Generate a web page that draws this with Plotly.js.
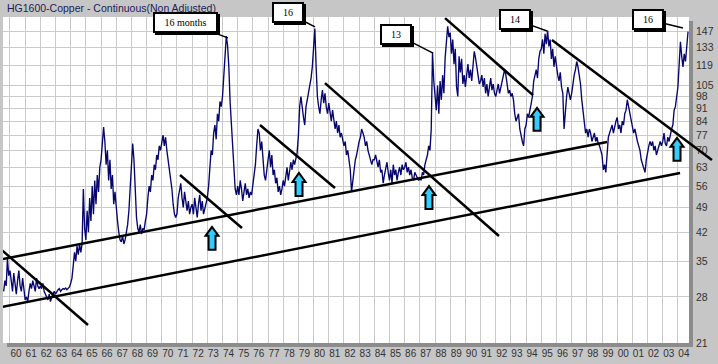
<!DOCTYPE html>
<html>
<head>
<meta charset="utf-8">
<script src="https://cdn.plot.ly/plotly-3.0.1.min.js"></script>
<style>
html,body{margin:0;padding:0;background:#c6c6c6;}
#chart{width:718px;height:364px;}
</style>
</head>
<body>
<div id="chart"></div>
<script>
// ---- Data (monthly, cents/lb) ----
// series starts August 1959
const startYear = 1959;
const startMonth = 7; // 0-based: August
const copper1959 = [29, 31, 30, 35.5, 32];
const copper1960s = [
  33, 31, 29, 32.5, 30, 28.5, 31, 33, 30, 29, 31.5, 29,
  27.5, 28, 27.2, 29, 30.5, 29.5, 31, 30, 29, 31.5, 30, 29.5,
  30, 29.5, 30.5, 29, 28.5, 28, 27.5, 28.5, 27.2, 28, 28.5, 29,
  28.5, 29, 29.3, 29.5, 29, 29.3, 29.5, 29.4, 29.6, 29.3, 29.5, 29.8,
  30.5, 31.5, 34, 37, 35, 38.5, 36.5, 39, 37, 39, 55, 43,
  40, 48, 42, 52, 45, 56, 47, 58, 50, 60, 54, 63,
  66, 72, 81, 74, 64, 70, 58, 66, 55, 60, 50, 54,
  48, 45, 42, 40, 39.5, 41, 39, 40, 42, 44, 48, 55,
  62, 73, 66, 52, 46, 43, 42, 44, 41.5, 43, 42.5, 45,
  47, 52, 56, 54, 60, 58, 64, 62, 68, 66, 72, 70
];
const copper1970s = [
  74, 77, 72, 76, 70, 66, 62, 58, 55, 50, 47, 46,
  47, 52, 55, 57, 52, 49, 54, 50, 48, 51, 47, 49,
  50, 47, 52, 49, 46, 50, 53, 48, 51, 47, 49, 50,
  52, 56, 62, 70, 68, 78, 82, 75, 88, 84, 95, 92,
  98, 112, 125, 143, 135, 118, 95, 82, 68, 62, 55, 53,
  56, 53, 58, 55, 51, 54, 57, 53, 55, 52, 54, 53,
  56, 60, 64, 72, 80, 78, 70, 74, 65, 60, 58, 61,
  66, 70, 63, 68, 60, 62, 57, 59, 54, 56, 53, 55,
  58, 56, 60, 63, 58, 61, 65, 62, 66, 64, 67, 69,
  77, 92, 98, 90, 86, 82, 92, 96, 100, 104, 110, 118
];
const copper1980s = [
  130, 150, 118, 98, 92, 88, 96, 102, 94, 100, 92, 88,
  94, 88, 84, 90, 86, 80, 84, 78, 82, 76, 78, 74,
  72, 74, 68, 70, 66, 62, 54, 58, 62, 66, 68, 72,
  74, 76, 80, 78, 76, 72, 74, 70, 68, 66, 64, 66,
  66, 68, 65, 63, 66, 61, 62, 57, 60, 62, 65, 61,
  58, 62, 57, 64, 60, 62, 58, 61, 63, 60, 64, 62,
  63, 65, 61, 63, 60, 62, 59, 58, 61, 60, 59, 58,
  59, 58, 61, 60, 64, 66, 68, 72, 70, 80, 129, 108,
  100, 90, 105, 88, 108, 96, 112, 100, 125, 140, 152, 142,
  146, 128, 140, 120, 132, 104, 98, 126, 114, 124, 106, 112
];
const copper1990s = [
  104, 112, 120, 110, 116, 108, 118, 130, 125, 118, 112, 106,
  108, 112, 104, 110, 100, 106, 98, 104, 110, 102, 106, 100,
  98, 102, 106, 100, 104, 108, 110, 116, 112, 104, 100, 102,
  98, 100, 96, 88, 84, 86, 88, 80, 76, 74, 72, 80,
  82, 88, 86, 90, 94, 98, 108, 112, 116, 110, 124, 130,
  132, 140, 128, 145, 136, 148, 134, 140, 124, 132, 118, 126,
  118, 112, 108, 114, 104, 100, 80, 92, 98, 104, 100, 96,
  100, 108, 112, 116, 122, 118, 112, 106, 96, 90, 84, 78,
  80, 76, 80, 78, 74, 76, 78, 74, 76, 73, 72, 70,
  68, 62, 64, 61, 68, 76, 78, 80, 82, 78, 82, 84
];
const copper2000s = [
  86, 80, 82, 78, 84, 82, 88, 90, 96, 92, 88, 84,
  82, 78, 80, 76, 74, 72, 70, 66, 64, 62, 61, 66,
  70, 72, 74, 72, 74, 70, 72, 68, 70, 72, 74, 72,
  74, 78, 73, 72, 76, 74, 78, 80, 82, 90, 92, 100,
  104, 120, 138, 126, 118, 128, 122, 134, 147
];

// ---- Axis ticks ----
const yearTicks = [1960,1961,1962,1963,1964,1965,1966,1967,1968,1969,1970,1971,1972,1973,1974,1975,1976,1977,1978,1979,1980,1981,1982,1983,1984,1985,1986,1987,1988,1989,1990,1991,1992,1993,1994,1995,1996,1997,1998,1999,2000,2001,2002,2003,2004];
const yearLabels = ['60','61','62','63','64','65','66','67','68','69','70','71','72','73','74','75','76','77','78','79','80','81','82','83','84','85','86','87','88','89','90','91','92','93','94','95','96','97','98','99','00','01','02','03','04'];
const priceTicks = [21,28,35,42,49,56,63,70,77,84,91,98,105,119,133,147];

// ---- Chart annotations (trend lines, arrows, callouts) in data coordinates ----
const xRange = [1959.54, 2004.73];
const trendLines = [
  [1959.54, 35.5, 1999.33, 73.8],
  [1959.47, 26.3, 2004.14, 60.8],
  [1959.47, 37.5, 1965.14, 23.5],
  [1971.20, 60.0, 1975.28, 43.1],
  [1976.47, 82.0, 1981.41, 55.3],
  [1980.75, 106.6, 1992.21, 41.0],
  [1988.66, 160, 1994.45, 98.9]
];
// this one runs past the plot edge into the axis panel
const longTrendLine = [1995.70, 139.5, 2006.24, 65.9];
const arrowTips = [[1973.31, 43.4],[1979.04, 60.8],[1987.60, 56.0],[1994.72, 91.3],[2003.94, 75.7]];
const callouts = [
  {text:'16 months', t:1974.36, v:141.4, ax:-42.5, ay:-15.5, w:61},
  {text:'16', t:1980.09, v:151.4, ax:-27, ay:-14, w:28},
  {text:'13', t:1987.87, v:128.6, ax:-37.5, ay:-19, w:28},
  {text:'14', t:1995.38, v:147.6, ax:-32, ay:-11.5, w:28},
  {text:'16', t:2004.33, v:150.4, ax:-34.5, ay:-8.5, w:28}
];

// ---- Build trace ----
const prices = [].concat(copper1959, copper1960s, copper1970s, copper1980s, copper1990s, copper2000s);
const times = prices.map((_, i) => startYear + (startMonth + i) / 12);

const trace = {
  x: times, y: prices, type: 'scatter', mode: 'lines',
  line: {color: '#06066e', width: 1.35},
  hoverinfo: 'skip'
};

const toPaperX = t => (t - xRange[0]) / (xRange[1] - xRange[0]);
const shapes = [];
// plot shadow (right & bottom)
shapes.push({type:'rect', xref:'paper', yref:'paper', x0:1, x1:1+4/686, y0:-4/326, y1:1-4/326, fillcolor:'#8c8c8c', line:{width:0}, layer:'below'});
shapes.push({type:'rect', xref:'paper', yref:'paper', x0:4/686, x1:1+4/686, y0:-4/326, y1:0, fillcolor:'#8c8c8c', line:{width:0}, layer:'below'});
trendLines.forEach(l => shapes.push({type:'line', xref:'x', yref:'y', x0:l[0], y0:l[1], x1:l[2], y1:l[3], line:{color:'#000', width:2.5}}));
shapes.push({type:'line', xref:'paper', yref:'y', x0:toPaperX(longTrendLine[0]), y0:longTrendLine[1],
  x1:toPaperX(longTrendLine[2]), y1:longTrendLine[3], line:{color:'#000', width:2.5}});
arrowTips.forEach(a => shapes.push({
  type:'path', xref:'x', yref:'y', xsizemode:'pixel', ysizemode:'pixel', xanchor:a[0], yanchor:a[1],
  path:'M0,0 L-6.5,-9 L-3.5,-9 L-3.5,-23 L3.5,-23 L3.5,-9 L6.5,-9 Z',
  fillcolor:'#33ccff', line:{color:'#000', width:2}
}));

const annotations = [];
annotations.push({xref:'paper', yref:'paper', x:2/686, y:1+9/326, xanchor:'left', yanchor:'middle', showarrow:false,
  text:'HG1600-Copper - Continuous(Non Adjusted)', font:{family:'Liberation Sans, Arial, sans-serif', size:10.5, color:'#1c1c58'}});
callouts.forEach(c => {
  // drop shadow box (no text)
  annotations.push({xref:'x', yref:'y', x:c.t, y:Math.log10(c.v), ax:c.ax+2, ay:c.ay+2, showarrow:true, arrowcolor:'rgba(0,0,0,0)', arrowwidth:0.1,
    text:' ', width:c.w, height:17, bgcolor:'#000', bordercolor:'#000', borderwidth:2, borderpad:0,
    font:{family:'Liberation Serif, Times New Roman, serif', size:10, color:'#000'}});
  annotations.push({xref:'x', yref:'y', x:c.t, y:Math.log10(c.v), ax:c.ax, ay:c.ay, showarrow:true, arrowhead:0, arrowwidth:1.5, arrowcolor:'#000', standoff:0,
    text:c.text, width:c.w, height:17, bgcolor:'#fff', bordercolor:'#000', borderwidth:2, borderpad:0,
    font:{family:'Liberation Serif, Times New Roman, serif', size:10, color:'#000'}});
});

const layout = {
  width:718, height:364,
  margin:{l:3, r:29, t:17, b:21, pad:0},
  paper_bgcolor:'#c6c6c6', plot_bgcolor:'#ffffff',
  showlegend:false,
  xaxis:{range:xRange, tickmode:'array', tickvals:yearTicks, ticktext:yearLabels,
    showgrid:true, gridcolor:'#cbcbcb', gridwidth:1, zeroline:false, showline:false, ticks:'',
    ticklabelshift:6, ticklabelstandoff:3,
    tickfont:{family:'Liberation Sans, Arial, sans-serif', size:10, color:'#333'}},
  yaxis:{type:'log', side:'right', range:[Math.log10(21), Math.log10(161.1)], tickmode:'array',
    tickvals:priceTicks, ticktext:priceTicks.map(String),
    showgrid:true, gridcolor:'#cbcbcb', gridwidth:1, zeroline:false, showline:false, ticks:'',
    ticklabelstandoff:6,
    tickfont:{family:'Liberation Sans, Arial, sans-serif', size:10.5, color:'#333'}},
  shapes:shapes,
  annotations:annotations
};

Plotly.newPlot('chart', [trace], layout, {displayModeBar:false, staticPlot:true});
</script>
</body>
</html>
